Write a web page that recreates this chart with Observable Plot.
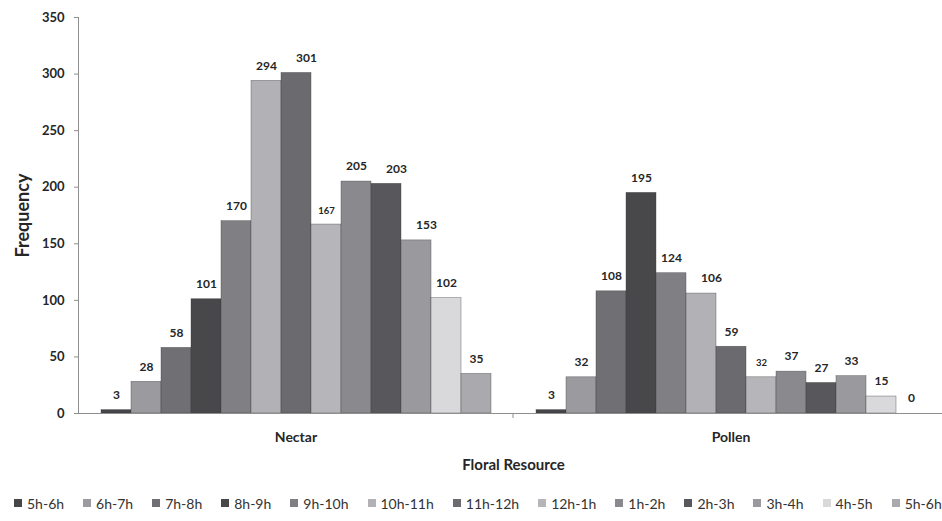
<!DOCTYPE html>
<html>
<head>
<meta charset="utf-8">
<script src="https://cdn.jsdelivr.net/npm/d3@7"></script>
<script src="https://cdn.jsdelivr.net/npm/@observablehq/plot@0.6"></script>
<style>
  html, body { margin: 0; padding: 0; background: #fff; overflow: hidden; width: 942px; }
  #chart { width: 942px; overflow: hidden; }
  #chart svg { display: block; font-family: Lato, "Open Sans", sans-serif; }
  g[aria-label="y-axis label"] text { font-size: 18px; }
  g[aria-label="fx-axis label"] text { font-size: 15px; }
  #legend { height: 46px; display: flex; align-items: center; padding-left: 14px; box-sizing: border-box;
            font: 14px Lato, "Open Sans", sans-serif; color: #333; white-space: nowrap;
            width: 942px; overflow: hidden; }
  #legend .item { display: inline-flex; align-items: center; margin-right: 19px; flex: none; }
  #legend .sw { width: 8px; height: 8px; margin-right: 5px; display: inline-block; }
</style>
</head>
<body>
<div id="chart"></div>
<div id="legend"></div>
<script>
// Categories (floral resource) and hourly series
const resources = ["Nectar", "Pollen"];
const seriesLabels = ["5h-6h", "6h-7h", "7h-8h", "8h-9h", "9h-10h", "10h-11h", "11h-12h",
                      "12h-1h", "1h-2h", "2h-3h", "3h-4h", "4h-5h", "5h-6h"];
// Values
const nectarValues = [3, 28, 58, 101, 170, 294, 301, 167, 205, 203, 153, 102, 35];
const pollenValues = [3, 32, 108, 195, 124, 106, 59, 32, 37, 27, 33, 15, 0];
// Y axis ticks
const yTicks = [0, 50, 100, 150, 200, 250, 300, 350];

// Styles
const seriesColors = ["#46464a", "#9b9b9f", "#707074", "#48484b", "#808084", "#b2b2b6", "#6b6b6f",
                      "#b6b6ba", "#8a8a8e", "#58585c", "#9a9a9e", "#d9d9db", "#aaaaae"];
const smallLabelSlots = [7];               // 12h-1h labels are printed smaller
const nudgedLabels = [["Nectar", 6], ["Nectar", 9], ["Nectar", 10], ["Pollen", 5]];

const slots = d3.range(seriesLabels.length);
const rows = [];
resources.forEach((r, ri) => {
  const vals = ri === 0 ? nectarValues : pollenValues;
  vals.forEach((v, i) => rows.push({resource: r, slot: i, series: seriesLabels[i], value: v}));
});
const isNudged = d => nudgedLabels.some(([r, s]) => r === d.resource && s === d.slot);
const isSmall = d => smallLabelSlots.includes(d.slot);

const boundaryTick = (index, scales, values, dimensions) => {
  const g = d3.create("svg:g");
  const y0 = scales.y(0);
  g.append("line")
    .attr("x1", dimensions.width).attr("x2", dimensions.width)
    .attr("y1", y0).attr("y2", y0 + 5)
    .attr("stroke", "#8f8f8f");
  return g.node();
};

const labelOpts = (extra) => ({
  fx: "resource", x: "slot", y: "value", text: d => String(d.value),
  dy: -15, fontWeight: "bold", fill: "#262626", ...extra
});

const chart = Plot.plot({
  width: 948,
  height: 480,
  marginLeft: 77,
  marginRight: 0,
  marginTop: 17,
  marginBottom: 67,
  fx: {domain: resources, padding: 0},
  x: {domain: slots, paddingInner: 0, paddingOuter: 0.75, axis: null},
  y: {domain: [0, 350]},
  color: {domain: slots, range: seriesColors},
  marks: [
    Plot.frame({anchor: "left", facetAnchor: "left", stroke: "#8f8f8f"}),
    Plot.axisY({ticks: yTicks, tickSize: 4, tickPadding: 10, fontSize: 13, fontWeight: "bold",
                stroke: "#8f8f8f", color: "#262626", label: "Frequency", labelAnchor: "center",
                labelArrow: false, labelOffset: 62}),
    Plot.axisFx({anchor: "bottom", tickSize: 0, tickPadding: 19, fontSize: 14, fontWeight: "bold",
                 color: "#262626", label: "Floral Resource", labelAnchor: "center",
                 labelArrow: false, labelOffset: 56}),
    Plot.barY(rows, {fx: "resource", x: "slot", y: "value", fill: "slot",
                     stroke: "#3c3c3c", strokeWidth: 0.6, strokeOpacity: 0.6}),
    Plot.ruleY([0], {stroke: "#8f8f8f"}),
    boundaryTick,
    Plot.text(rows.filter(d => !isSmall(d) && !isNudged(d)), labelOpts({fontSize: 12})),
    Plot.text(rows.filter(d => !isSmall(d) && isNudged(d)), labelOpts({fontSize: 12, dx: 10})),
    Plot.text(rows.filter(d => isSmall(d)), labelOpts({fontSize: 9.5, dy: -14}))
  ]
});
chart.style.maxWidth = "none";
document.getElementById("chart").append(chart);

const legend = d3.select("#legend");
seriesLabels.forEach((s, i) => {
  const item = legend.append("span").attr("class", "item");
  item.append("span").attr("class", "sw").style("background", seriesColors[i]);
  item.append("span").text(s);
});
</script>
</body>
</html>
